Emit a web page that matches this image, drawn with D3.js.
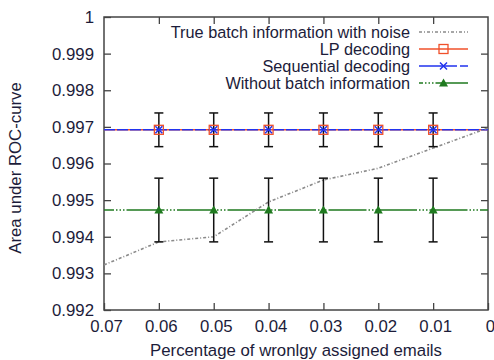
<!DOCTYPE html>
<html><head><meta charset="utf-8">
<script src="https://cdn.jsdelivr.net/npm/d3@7"></script>
<style>
html,body{margin:0;padding:0;background:#fff;}
svg{display:block;}
text{font-family:"Liberation Sans",Arial,Helvetica,sans-serif;fill:#1c1c3a;}
</style></head>
<body>
<script>
// ---- data ----
const xLine = [0.07, 0.06, 0.05, 0.04, 0.03, 0.02, 0.01, 0];
const noisyBatch = [0.99323, 0.99386, 0.99400, 0.99495, 0.99555, 0.99587, 0.99642, 0.99697];
const markerX = [0.06, 0.05, 0.04, 0.03, 0.02, 0.01];
const lpValue = [0.99692, 0.99692, 0.99692, 0.99692, 0.99692, 0.99692];
const lpErr = [0.00046, 0.00046, 0.00046, 0.00046, 0.00046, 0.00046];
const seqValue = [0.99692, 0.99692, 0.99692, 0.99692, 0.99692, 0.99692];
const noBatchValue = [0.99473, 0.99473, 0.99473, 0.99473, 0.99473, 0.99473];
const noBatchErr = [0.00087, 0.00087, 0.00087, 0.00087, 0.00087, 0.00087];
const xTicks = [0.07, 0.06, 0.05, 0.04, 0.03, 0.02, 0.01, 0];
const xTickLabels = ["0.07", "0.06", "0.05", "0.04", "0.03", "0.02", "0.01", "0"];
const yTicks = [0.992, 0.993, 0.994, 0.995, 0.996, 0.997, 0.998, 0.999, 1];
const yTickLabels = ["0.992", "0.993", "0.994", "0.995", "0.996", "0.997", "0.998", "0.999", "1"];
const legendLabels = ["True batch information with noise", "LP decoding", "Sequential decoding", "Without batch information"];

const W = 494, H = 360;
const L = 104, R = 488, T = 17, B = 310;
const FS = 16.8, LFS = 16.3;

const svg = d3.select("body").append("svg").attr("width", W).attr("height", H);
const x = d3.scaleLinear().domain([0.07, 0]).range([L, R]);
const y = d3.scaleLinear().domain([0.992, 1]).range([B, T]);

const axisColor = "#444";
const tickLen = 7;
const gx = svg.append("g").attr("transform", `translate(0,${B})`)
  .call(d3.axisBottom(x).tickValues(xTicks).tickSize(-tickLen).tickPadding(10)
    .tickFormat((d, i) => xTickLabels[i]));
const gxTop = svg.append("g").attr("transform", `translate(0,${T})`)
  .call(d3.axisTop(x).tickValues(xTicks.slice(1, -1)).tickSize(-tickLen).tickFormat(""));
const gy = svg.append("g").attr("transform", `translate(${L},0)`)
  .call(d3.axisLeft(y).tickValues(yTicks).tickSize(-tickLen).tickPadding(10)
    .tickFormat((d, i) => yTickLabels[i]));
const gyR = svg.append("g").attr("transform", `translate(${R},0)`)
  .call(d3.axisRight(y).tickValues(yTicks.slice(1, -1)).tickSize(-tickLen).tickFormat(""));
[gx, gxTop, gy, gyR].forEach(g => {
  g.select(".domain").remove();
  g.selectAll(".tick line").attr("stroke", axisColor).attr("stroke-width", 1.3);
  g.selectAll(".tick text").attr("font-size", FS).attr("fill", "#1c1c3a")
    .attr("font-family", '"Liberation Sans",Arial,sans-serif');
});
gx.selectAll(".tick text").attr("dx", 2);
svg.append("rect").attr("x", L).attr("y", T).attr("width", R - L).attr("height", B - T)
  .attr("fill", "none").attr("stroke", axisColor).attr("stroke-width", 1.5);

svg.append("clipPath").attr("id", "clip").append("rect")
  .attr("x", L).attr("y", T).attr("width", R - L).attr("height", B - T);
const plot = svg.append("g").attr("clip-path", "url(#clip)");

const colGray = "#8a8a8a", colRed = "#f0502a", colBlue = "#2233ee", colGreen = "#1f7a1f";
const ln = d3.line().x(d => x(d[0])).y(d => y(d[1]));
const full = v => [[xLine[0], v], [xLine[xLine.length - 1], v]];

plot.append("path").attr("d", ln(full(noBatchValue[0]))).attr("fill", "none")
  .attr("stroke", colGreen).attr("stroke-width", 1.5)
  .attr("stroke-dasharray", "38,2,1.5,2,1.5,2,1.5,2").attr("stroke-dashoffset", 28);
plot.append("path").attr("d", ln(full(lpValue[0]))).attr("fill", "none")
  .attr("stroke", colRed).attr("stroke-width", 1.5);
plot.append("path").attr("d", ln(full(seqValue[0]))).attr("fill", "none")
  .attr("stroke", colBlue).attr("stroke-width", 1.5).attr("stroke-dasharray", "11,2");
plot.append("path").attr("d", ln(xLine.map((d, i) => [d, noisyBatch[i]]))).attr("fill", "none")
  .attr("stroke", colGray).attr("stroke-width", 1.6).attr("stroke-dasharray", "3,2,1,2");

function errBars(vals, errs) {
  const cap = 4.5;
  markerX.forEach((xv, i) => {
    const cx = x(xv), y1 = y(vals[i] + errs[i]), y2 = y(vals[i] - errs[i]);
    const g = plot.append("g").attr("stroke", "#111").attr("stroke-width", 1.5);
    g.append("line").attr("x1", cx).attr("x2", cx).attr("y1", y1).attr("y2", y2);
    g.append("line").attr("x1", cx - cap).attr("x2", cx + cap).attr("y1", y1).attr("y2", y1);
    g.append("line").attr("x1", cx - cap).attr("x2", cx + cap).attr("y1", y2).attr("y2", y2);
  });
}
errBars(lpValue, lpErr);
errBars(noBatchValue, noBatchErr);

const sq = 4.5;
function square(g, cx, cy) {
  g.append("rect").attr("x", cx - sq).attr("y", cy - sq).attr("width", 2 * sq).attr("height", 2 * sq)
    .attr("fill", "none").attr("stroke", colRed).attr("stroke-width", 1.3);
}
function cross(g, cx, cy) {
  const s = 3.5;
  g.append("path").attr("d", `M${cx - s},${cy - s}L${cx + s},${cy + s}M${cx - s},${cy + s}L${cx + s},${cy - s}`)
    .attr("stroke", colBlue).attr("stroke-width", 1.5).attr("fill", "none");
}
function tri(g, cx, cy) {
  const s = 4.5;
  g.append("path").attr("d", `M${cx},${cy - s}L${cx + s},${cy + s * 0.8}L${cx - s},${cy + s * 0.8}Z`)
    .attr("fill", colGreen);
}
markerX.forEach((xv, i) => {
  square(plot, x(xv), y(lpValue[i]));
  cross(plot, x(xv), y(seqValue[i]));
  tri(plot, x(xv), y(noBatchValue[i]));
});

const legY = [32, 49, 66, 83];
const lx1 = 419, lx2 = 468, lmx = 443.5, ltx = 410;
const lg = svg.append("g");
legendLabels.forEach((t, i) => {
  lg.append("text").attr("x", ltx).attr("y", legY[i]).attr("text-anchor", "end")
    .attr("dominant-baseline", "central").attr("font-size", LFS).text(t);
});
lg.append("line").attr("x1", lx1).attr("x2", lx2).attr("y1", legY[0]).attr("y2", legY[0])
  .attr("stroke", colGray).attr("stroke-width", 1.6).attr("stroke-dasharray", "3,2,1,2");
lg.append("line").attr("x1", lx1).attr("x2", lx2).attr("y1", legY[1]).attr("y2", legY[1])
  .attr("stroke", colRed).attr("stroke-width", 1.5);
square(lg, lmx, legY[1]);
lg.append("line").attr("x1", lx1).attr("x2", lx2).attr("y1", legY[2]).attr("y2", legY[2])
  .attr("stroke", colBlue).attr("stroke-width", 1.5).attr("stroke-dasharray", "38,3");
cross(lg, lmx, legY[2]);
lg.append("line").attr("x1", lx1).attr("x2", lx2).attr("y1", legY[3]).attr("y2", legY[3])
  .attr("stroke", colGreen).attr("stroke-width", 1.5).attr("stroke-dasharray", "4,2,1.5,2,1.5,2,1.5,2,40");
tri(lg, lmx, legY[3]);

svg.append("text").attr("x", 296).attr("y", 356).attr("text-anchor", "middle")
  .attr("font-size", FS).text("Percentage of wronlgy assigned emails");
svg.append("text").attr("transform", "translate(21,168) rotate(-90)").attr("text-anchor", "middle")
  .attr("font-size", FS).text("Area under ROC-curve");
</script>
</body></html>
